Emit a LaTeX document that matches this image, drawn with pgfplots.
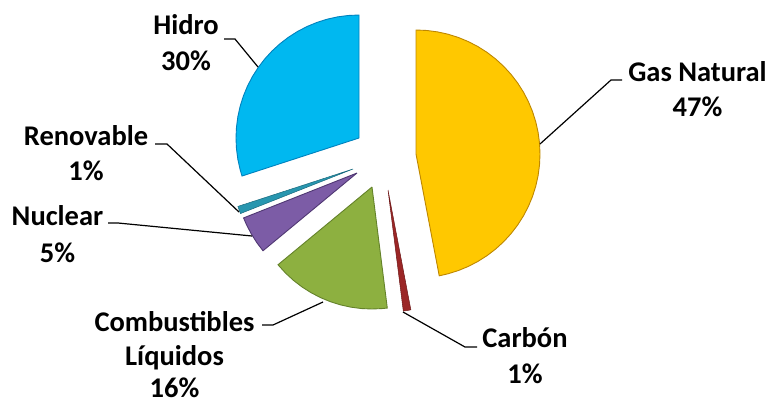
\documentclass[border=0pt]{standalone}
\usepackage{pgfplots}
\pgfplotsset{compat=1.18}
\usepackage{fontspec}
\setmainfont{Carlito}
\definecolor{gasC}{RGB}{255,200,0}
\definecolor{gasE}{RGB}{190,135,0}
\definecolor{hidC}{RGB}{0,184,240}
\definecolor{hidE}{RGB}{0,130,190}
\definecolor{comC}{RGB}{141,176,64}
\definecolor{comE}{RGB}{100,130,42}
\definecolor{nucC}{RGB}{124,92,166}
\definecolor{nucE}{RGB}{80,56,115}
\definecolor{renC}{RGB}{40,150,175}
\definecolor{renE}{RGB}{25,105,125}
\definecolor{carC}{RGB}{155,38,38}
\definecolor{carE}{RGB}{110,25,25}
\begin{document}
\begin{tikzpicture}[lbl/.style={font=\fontsize{28.5}{34}\selectfont\bfseries, inner sep=0pt, outer sep=0pt, overlay, anchor=base}]
\begin{axis}[
  x=1pt, y=1pt, y dir=reverse,
  xmin=0, xmax=772, ymin=0, ymax=405,
  axis lines=box, axis line style={draw=none}, ticks=none,
  clip=false,
]
% Gas Natural 47%
\addplot[fill=gasC, draw=gasE, line width=0.9pt, data cs=polar, shift={(416pt,-154pt)}] coordinates {
(0,0) (-90,124) (-85,124) (-80,124) (-75,124) (-70,124) (-65,124) (-60,124) (-55,124) (-50,124)
(-45,124) (-40,124) (-35,124) (-30,124) (-25,124) (-20,124) (-15,124) (-10,124) (-5,124) (0,124)
(5,124) (10,124) (15,124) (20,124) (25,124) (30,124) (35,124) (40,124) (45,124) (50,124)
(55,124) (60,124) (65,124) (70,124) (75,124) (79.2,124) (0,0)};
% Carbon 1%
\addplot[fill=carC, draw=carE, line width=0.5pt, data cs=polar, shift={(388pt,-190pt)}] coordinates {
(0,0) (79.2,122) (81,122) (82.8,122) (0,0)};
% Combustibles Liquidos 16%
\addplot[fill=comC, draw=comE, line width=0.9pt, data cs=polar, shift={(372pt,-187pt)}] coordinates {
(0,0) (82.8,122) (85,122) (90,122) (95,122) (100,122) (105,122) (110,122) (115,122) (120,122)
(125,122) (130,122) (135,122) (140.4,122) (0,0)};
% Nuclear 5%
\addplot[fill=nucC, draw=nucE, line width=0.9pt, data cs=polar, shift={(357pt,-173pt)}] coordinates {
(0,0) (140.4,122) (145,122) (150,122) (155,122) (158.4,122) (0,0)};
% Renovable 1%
\addplot[fill=renC, draw=renE, line width=0.5pt, data cs=polar, shift={(353pt,-169pt)}] coordinates {
(0,0) (158.4,121) (160,121) (162,121) (0,0)};
% Hidro 30%
\addplot[fill=hidC, draw=hidE, line width=0.9pt, data cs=polar, shift={(359pt,-138pt)}] coordinates {
(0,0) (162,123) (165,123) (170,123) (175,123) (180,123) (185,123) (190,123) (195,123) (200,123)
(205,123) (210,123) (215,123) (220,123) (225,123) (230,123) (235,123) (240,123) (245,123) (250,123)
(255,123) (260,123) (265,123) (270,123) (0,0)};
% leader lines
\addplot[black, line width=1.2pt] coordinates {(540,144) (611,80) (622,80)};
\addplot[black, line width=1.2pt] coordinates {(403,312) (465,347) (477,347)};
\addplot[black, line width=1.2pt] coordinates {(224,39) (235,39) (258,67)};
\addplot[black, line width=1.2pt] coordinates {(155,144) (167,144) (239,212)};
\addplot[black, line width=1.2pt] coordinates {(108,223) (118,223) (252,236)};
\addplot[black, line width=1.2pt] coordinates {(262,325) (273,325) (323,302)};
% labels
\node[lbl] at (axis cs:697.5,81) {Gas Natural};
\node[lbl] at (axis cs:697.5,116) {47\%};
\node[lbl] at (axis cs:525,347) {Carbón};
\node[lbl] at (axis cs:525,383) {1\%};
\node[lbl] at (axis cs:186,34) {Hidro};
\node[lbl] at (axis cs:186,70) {30\%};
\node[lbl] at (axis cs:86,145) {Renovable};
\node[lbl] at (axis cs:86,180) {1\%};
\node[lbl] at (axis cs:57.5,225) {Nuclear};
\node[lbl] at (axis cs:57.5,262) {5\%};
\node[lbl] at (axis cs:174.5,331) {Combustibles};
\node[lbl] at (axis cs:174.5,365) {Líquidos};
\node[lbl] at (axis cs:174.5,397) {16\%};
\end{axis}
\end{tikzpicture}
\end{document}
